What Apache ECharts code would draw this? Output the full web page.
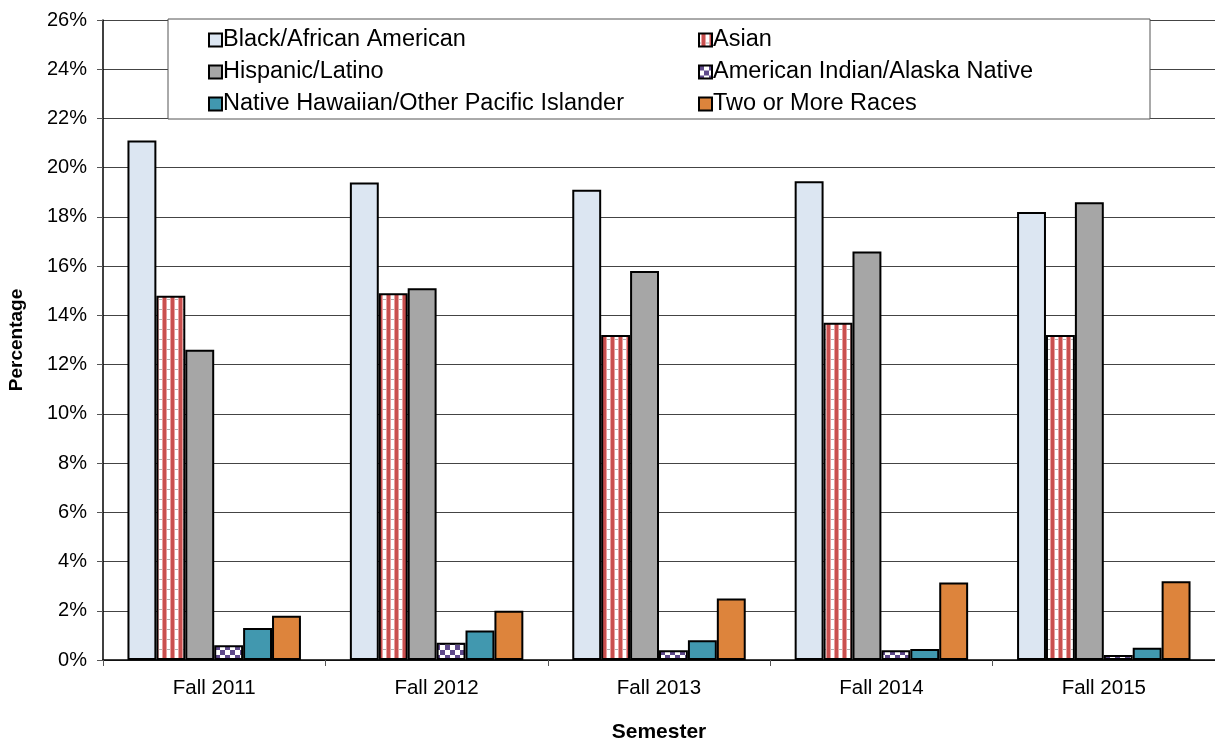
<!DOCTYPE html>
<html>
<head>
<meta charset="utf-8">
<script src="https://cdn.jsdelivr.net/npm/echarts@6/dist/echarts.min.js"></script>
<style>
  html, body { margin: 0; padding: 0; background: #fff; }
  #chart { width: 1215px; height: 740px; }
</style>
</head>
<body>
<div id="chart"></div>
<script>
// data (percent)
const semesters = ['Fall 2011', 'Fall 2012', 'Fall 2013', 'Fall 2014', 'Fall 2015'];
const black = [21.1, 19.4, 19.1, 19.45, 18.2];
const asian = [14.8, 14.9, 13.2, 13.7, 13.2];
const hispanic = [12.6, 15.1, 15.8, 16.6, 18.6];
const amIndian = [0.6, 0.7, 0.4, 0.4, 0.2];
const hawaiian = [1.3, 1.2, 0.8, 0.45, 0.5];
const twoOrMore = [1.8, 2.0, 2.5, 3.15, 3.2];
const yTicks = [0, 2, 4, 6, 8, 10, 12, 14, 16, 18, 20, 22, 24, 26];

const font = 'Liberation Sans, Arial, sans-serif';

// striped fill for Asian
const makeStripes = () => {
  const c = document.createElement('canvas');
  c.width = 8; c.height = 10;
  const ctx = c.getContext('2d');
  ctx.fillStyle = '#fff';
  ctx.fillRect(0, 0, 8, 10);
  ctx.fillStyle = '#b0b0b0';
  ctx.fillRect(0, 9, 8, 1);
  ctx.fillStyle = '#e9a0a0';
  ctx.fillRect(2, 0, 5, 10);
  ctx.fillStyle = '#c9504f';
  ctx.fillRect(3, 0, 3, 10);
  return c;
};
// checker fill for American Indian
const makeChecker = () => {
  const c = document.createElement('canvas');
  c.width = 10; c.height = 10;
  const ctx = c.getContext('2d');
  ctx.fillStyle = '#fff';
  ctx.fillRect(0, 0, 10, 10);
  ctx.fillStyle = '#5f4a8b';
  ctx.fillRect(0, 0, 5, 5);
  ctx.fillRect(5, 5, 5, 5);
  return c;
};

const barSeries = (name, data, color) => ({
  name: name,
  type: 'bar',
  data: data,
  barGap: 0,
  barCategoryGap: '22%',
  itemStyle: { color: color, borderColor: '#000', borderWidth: 2 }
});

const legendBase = {
  orient: 'vertical', top: 23, itemGap: 8,
  icon: 'rect', itemWidth: 13, itemHeight: 13,
  itemStyle: { borderColor: '#000', borderWidth: 2 },
  textStyle: { fontSize: 23.5, fontFamily: font, color: '#000', padding: [0, 0, 0, -4] }
};

const chart = echarts.init(document.getElementById('chart'));
const option = {
  animation: false,
  textStyle: { fontFamily: font },
  grid: { left: 103, right: 0, top: 20, bottom: 80, outerBoundsMode: 'none' },
  graphic: [{
    type: 'rect',
    z: 3,
    shape: { x: 168, y: 19, width: 982, height: 100 },
    style: { fill: '#fff', stroke: '#555', lineWidth: 1 }
  }],
  legend: [
    Object.assign({}, legendBase, {
      left: 203,
      data: ['Black/African American', 'Hispanic/Latino', 'Native Hawaiian/Other Pacific Islander']
    }),
    Object.assign({}, legendBase, {
      left: 693,
      data: ['Asian', 'American Indian/Alaska Native', 'Two or More Races']
    })
  ],
  xAxis: {
    type: 'category',
    data: semesters,
    name: 'Semester',
    nameLocation: 'middle',
    nameGap: 62,
    nameTextStyle: { fontSize: 21, fontWeight: 'bold', color: '#000' },
    axisLine: { lineStyle: { color: '#000', width: 1.5 } },
    axisTick: { show: true, inside: false, length: 6, lineStyle: { color: '#555' } },
    axisLabel: { fontSize: 20.5, color: '#000', margin: 18 }
  },
  yAxis: {
    type: 'value',
    min: 0,
    max: yTicks[yTicks.length - 1],
    interval: 2,
    name: 'Percentage',
    nameLocation: 'middle',
    nameGap: 77,
    nameTextStyle: { fontSize: 19, fontWeight: 'bold', color: '#000' },
    axisLine: { show: true, lineStyle: { color: '#000', width: 1.5 } },
    axisTick: { show: true, length: 6, lineStyle: { color: '#555' } },
    axisLabel: { fontSize: 20, color: '#000', margin: 16, formatter: v => v + '%' },
    splitLine: { lineStyle: { color: '#444', width: 1 } }
  },
  series: [
    barSeries('Black/African American', black, '#dce6f2'),
    barSeries('Asian', asian, { image: makeStripes(), repeat: 'repeat' }),
    barSeries('Hispanic/Latino', hispanic, '#a6a6a6'),
    barSeries('American Indian/Alaska Native', amIndian, { image: makeChecker(), repeat: 'repeat' }),
    barSeries('Native Hawaiian/Other Pacific Islander', hawaiian, '#4198af'),
    barSeries('Two or More Races', twoOrMore, '#dd843c')
  ]
};
chart.setOption(option);
</script>
</body>
</html>
